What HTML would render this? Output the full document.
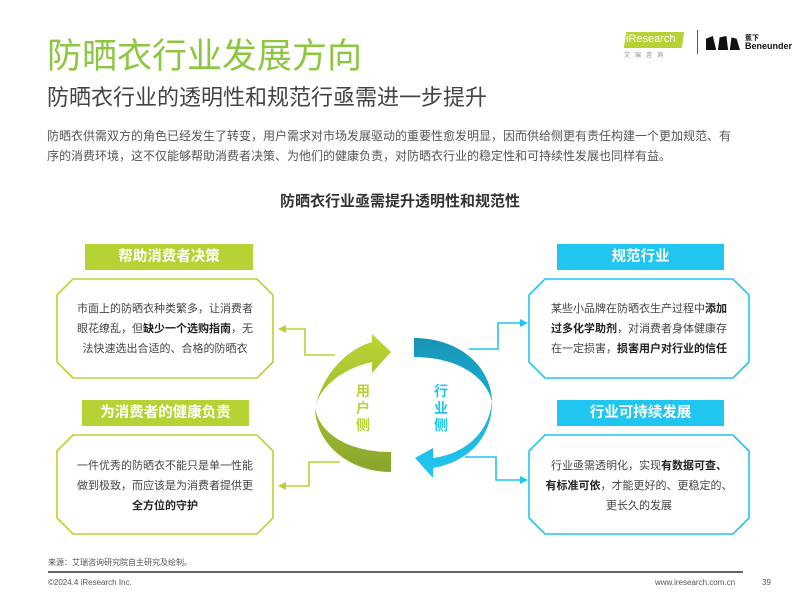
<!DOCTYPE html>
<html><head><meta charset="utf-8"><style>
body{margin:0;width:800px;height:596px;background:#fff;font-family:"Liberation Sans","Noto Sans CJK SC",sans-serif;position:relative;overflow:hidden}
.a{position:absolute;white-space:nowrap}
.lab{position:absolute;color:#fff;font-weight:bold;font-size:14.5px;text-align:center;line-height:26px;height:26px}
.g{background:#b5d334}.b{background:#20c6ef}
.txt{position:absolute;font-size:11px;color:#444;text-align:center;line-height:20px}
b{color:#222}
</style></head><body>
<div class="a" style="left:47px;top:28px;font-size:35px;color:#8dc63f;letter-spacing:0px">防晒衣行业发展方向</div>
<div class="a" style="left:47px;top:80px;font-size:22px;color:#444">防晒衣行业的透明性和规范行亟需进一步提升</div>
<div class="a" style="left:47px;top:126px;font-size:12px;color:#555;line-height:20px">防晒衣供需双方的角色已经发生了转变，用户需求对市场发展驱动的重要性愈发明显，因而供给侧更有责任构建一个更加规范、有<br>序的消费环境，这不仅能够帮助消费者决策、为他们的健康负责，对防晒衣行业的稳定性和可持续性发展也同样有益。</div>
<div class="a" style="left:0;width:800px;text-align:center;top:190px;font-size:15px;font-weight:bold;color:#333">防晒衣行业亟需提升透明性和规范性</div>
<!-- logos -->
<div class="a" style="left:625px;top:32px;width:58px;height:16px;background:#b5d334;transform:skewX(-8deg)"></div>
<div class="a" style="left:626px;top:33px;font-size:11px;color:#fff">iResearch</div>
<div class="a" style="left:624px;top:50px;font-size:6px;color:#888;letter-spacing:5px">艾瑞咨询</div>
<div class="a" style="left:697px;top:30px;width:1px;height:24px;background:#555"></div>
<div class="a" style="left:706px;top:36px;width:34px;height:14px;background:#111;clip-path:polygon(0 20%,20% 0,30% 100%,35% 100%,40% 10%,60% 0,65% 100%,70% 100%,75% 10%,90% 20%,100% 100%,0 100%)"></div>
<div class="a" style="left:745px;top:33px;font-size:7px;font-weight:bold;color:#111">蕉下</div>
<div class="a" style="left:745px;top:41px;font-size:9px;font-weight:bold;color:#111">Beneunder</div>

<div class="lab g" style="left:85px;top:244px;width:168px">帮助消费者决策</div>
<div class="lab g" style="left:82px;top:400px;width:167px">为消费者的健康负责</div>
<div class="lab b" style="left:557px;top:244px;width:167px">规范行业</div>
<div class="lab b" style="left:557px;top:400px;width:167px">行业可持续发展</div>

<svg class="a" style="left:0;top:0" width="800" height="596">
<defs>
<linearGradient id="gg" x1="0" y1="0" x2="0" y2="1"><stop offset="0" stop-color="#b8d633"/><stop offset="1" stop-color="#8aa62c"/></linearGradient>
<linearGradient id="bg" x1="0" y1="0" x2="0" y2="1"><stop offset="0" stop-color="#1795b6"/><stop offset="0.5" stop-color="#1aafd5"/><stop offset="1" stop-color="#22c8f2"/></linearGradient>
</defs>
<g fill="none" stroke-width="1.6">
<polygon points="73,279 257,279 273,295 273,362 257,378 73,378 57,362 57,295" stroke="#b5d334"/>
<polygon points="73,435 257,435 273,451 273,518 257,534 73,534 57,518 57,451" stroke="#b5d334"/>
<polygon points="545,279 733,279 749,295 749,362 733,378 545,378 529,362 529,295" stroke="#20c6ef"/>
<polygon points="545,435 733,435 749,451 749,518 733,534 545,534 529,518 529,451" stroke="#20c6ef"/>
<polyline points="335,355 305,355 305,329 284,329" stroke="#b5d334"/>
<polyline points="340,462 309,462 309,486 284,486" stroke="#b5d334"/>
<polyline points="469,349 498,349 498,323 522,323" stroke="#20c6ef"/>
<polyline points="465,457 496,457 496,480 522,480" stroke="#20c6ef"/>
</g>
<polygon points="278,329 286,325 286,333" fill="#b5d334"/>
<polygon points="278,486 286,482 286,490" fill="#b5d334"/>
<polygon points="528,323 520,319 520,327" fill="#20c6ef"/>
<polygon points="528,480 520,476 520,484" fill="#20c6ef"/>
<path d="M372,334 L391,352 L372,373 L372,362 C345,368 320,385 315,408 C316,445 350,472 391,472 L391,452 C350,452 320,435 315,408 C322,376 345,350 372,342 Z" fill="url(#gg)"/>
<path d="M414,338 C458,338 490,365 492,400 C490,432 465,454 433,458 L433,448 L415,458 L433,478 L433,468 C468,462 492,438 492,402 C486,375 455,357 414,357 Z" fill="url(#bg)"/>
</svg>
<div class="a" style="left:356px;top:383px;font-size:14px;font-weight:bold;color:#b5d334;line-height:17px;width:16px">用<br>户<br>侧</div>
<div class="a" style="left:434px;top:383px;font-size:14px;font-weight:bold;color:#20c6ef;line-height:17px;width:16px">行<br>业<br>侧</div>

<div class="txt" style="left:57px;top:299px;width:216px">市面上的防晒衣种类繁多，让消费者<br>眼花缭乱，但<b>缺少一个选购指南</b>，无<br>法快速选出合适的、合格的防晒衣</div>
<div class="txt" style="left:57px;top:456px;width:216px">一件优秀的防晒衣不能只是单一性能<br>做到极致，而应该是为消费者提供更<br><b>全方位的守护</b></div>
<div class="txt" style="left:529px;top:299px;width:220px">某些小品牌在防晒衣生产过程中<b>添加<br>过多化学助剂</b>，对消费者身体健康存<br>在一定损害，<b>损害用户对行业的信任</b></div>
<div class="txt" style="left:529px;top:456px;width:220px">行业亟需透明化，实现<b>有数据可查、<br>有标准可依</b>，才能更好的、更稳定的、<br>更长久的发展</div>

<div class="a" style="left:48px;top:557px;font-size:8px;color:#555">来源：艾瑞咨询研究院自主研究及绘制。</div>
<div class="a" style="left:48px;top:571px;width:695px;height:2px;background:#666"></div>
<div class="a" style="left:48px;top:578px;font-size:8px;color:#555">©2024.4 iResearch Inc.</div>
<div class="a" style="left:655px;top:578px;font-size:8px;color:#555">www.iresearch.com.cn</div>
<div class="a" style="left:762px;top:578px;font-size:8px;color:#555">39</div>
</body></html>
